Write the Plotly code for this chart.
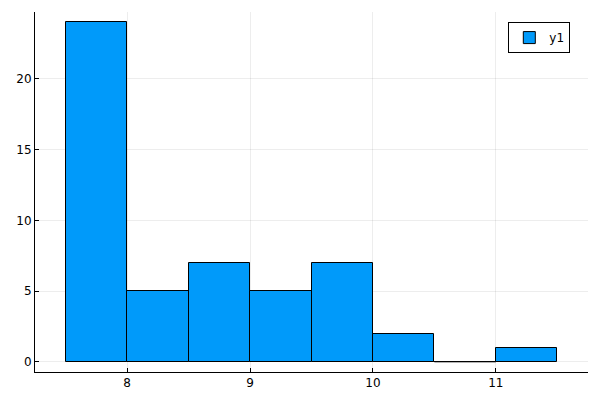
import plotly.graph_objects as go

BIN_EDGES = [7.5, 8.0, 8.5, 9.0, 9.5, 10.0, 10.5, 11.0, 11.5]
COUNTS = [24, 5, 7, 5, 7, 2, 0, 1]
X_TICKS = [8, 9, 10, 11]
Y_TICKS = [0, 5, 10, 15, 20]


def main():
    centers = [(a + b) / 2 for a, b in zip(BIN_EDGES[:-1], BIN_EDGES[1:])]
    widths = [b - a for a, b in zip(BIN_EDGES[:-1], BIN_EDGES[1:])]

    fig = go.Figure(go.Bar(x=centers, y=COUNTS, width=widths, name='y1',
                           marker=dict(color='#009AFA', line=dict(color='black', width=1)),
                           showlegend=True))

    # empty bins still get their outline drawn along zero
    for i, c in enumerate(COUNTS):
        if c == 0:
            fig.add_trace(go.Scatter(x=[BIN_EDGES[i], BIN_EDGES[i + 1]], y=[0, 0], mode='lines',
                                     line=dict(color='black', width=1), showlegend=False,
                                     hoverinfo='skip'))

    axis_common = dict(showline=True, linecolor='black', linewidth=1, mirror=False,
                       showgrid=True, gridcolor='rgba(0,0,0,0.07)', gridwidth=0.5,
                       zeroline=False, ticks='inside', ticklen=4, tickcolor='black',
                       automargin=False,
                       tickfont=dict(family='DejaVu Sans', size=12, color='black'))
    fig.update_xaxes(range=[7.25, 11.75], tickvals=X_TICKS, **axis_common)
    fig.update_yaxes(range=[-0.72, 24.72], tickvals=Y_TICKS, **axis_common)

    # page body adds 8px offset, so margins are shifted to compensate
    fig.update_layout(width=600, height=400, plot_bgcolor='white', paper_bgcolor='white',
                      margin=dict(l=27, r=20, t=4, b=36), bargap=0,
                      legend=dict(x=0.968, y=0.972, xanchor='right', yanchor='top',
                                  bordercolor='black', borderwidth=1, bgcolor='white',
                                  font=dict(family='DejaVu Sans', size=12, color='black')))
    fig.write_html('out.html')


if __name__ == '__main__':
    main()
